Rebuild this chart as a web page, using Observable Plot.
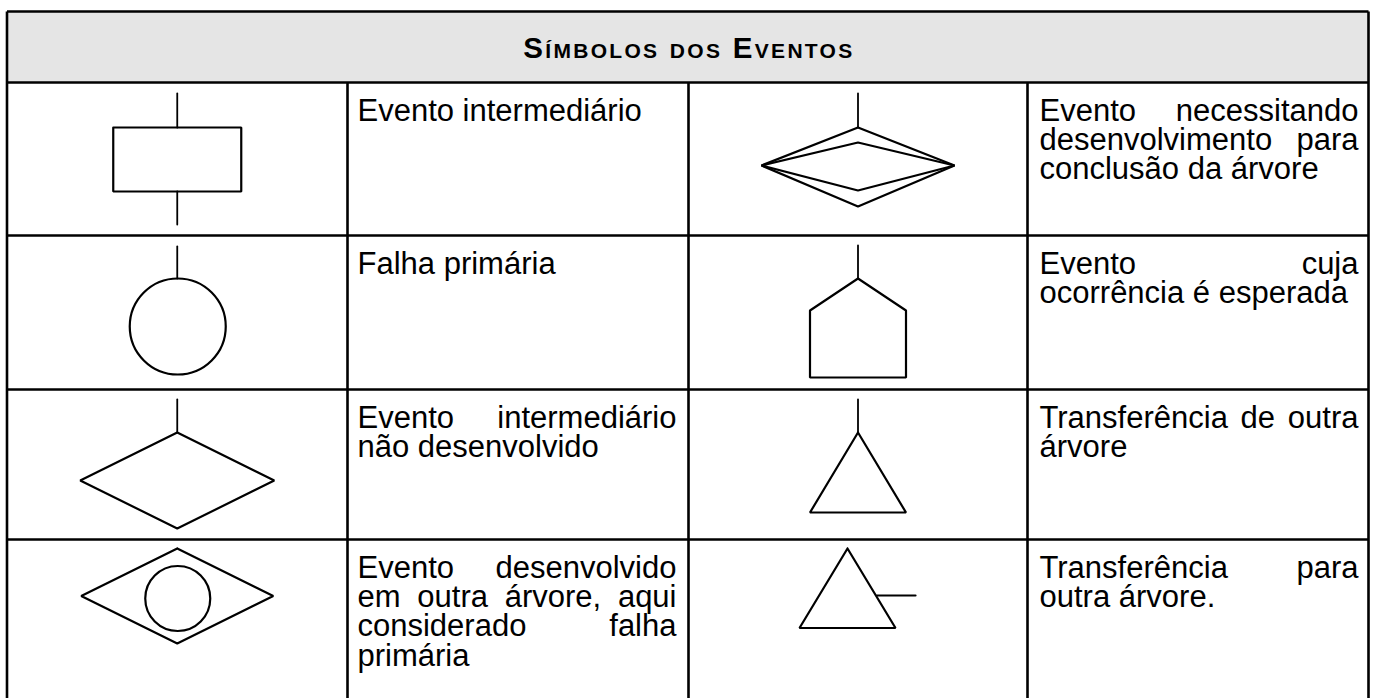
<!DOCTYPE html>
<html><head><meta charset="utf-8">
<script src="https://cdn.jsdelivr.net/npm/d3@7"></script>
<script src="https://cdn.jsdelivr.net/npm/@observablehq/plot@0.6"></script>
<style>body{margin:0;background:#fff}</style>
</head><body><div id="chart"></div>
<script>
// ---- content ----
const title = "Símbolos dos Eventos";
const symbols = ["intermediario", "necessitando", "primaria", "esperada", "naoDesenvolvido", "transfDe", "desenvOutra", "transfPara"];
const cellRow = [0, 0, 1, 1, 2, 2, 3, 3];
const cellCol = [0, 1, 0, 1, 0, 1, 0, 1];
const descriptions = [
  ["Evento intermediário"],
  ["Evento necessitando", "desenvolvimento para", "conclusão da árvore"],
  ["Falha primária"],
  ["Evento cuja", "ocorrência é esperada"],
  ["Evento intermediário", "não desenvolvido"],
  ["Transferência de outra", "árvore"],
  ["Evento desenvolvido", "em outra árvore, aqui", "considerado falha", "primária"],
  ["Transferência para", "outra árvore."]
];

// ---- layout (pixels) ----
const W = 1375, H = 698;
const colEdges = [6.5, 347, 688, 1027, 1368];
const rowEdges = [11, 82, 235, 389, 539, H];
const symbolCenterX = [(colEdges[0] + colEdges[1]) / 2, (colEdges[2] + colEdges[3]) / 2];
const textLeft = [357, 1039];
const textRight = [676, 1358];
const fontSize = 31, linePitch = 29.5, firstBaseline = 38;
const lineHeight = linePitch / fontSize;

// symbol glyph geometry, local to (column centre, row top)
const geometry = {
  intermediario: {sticks: [[[0, 11], [0, 45]], [[0, 109], [0, 142]]],
    lines: [[[-64, 45], [64, 45], [64, 109], [-64, 109], [-64, 45]]]},
  necessitando: {sticks: [[[0, 11], [0, 45]]],
    lines: [[[0, 45], [96.5, 83], [0, 124], [-96.5, 83], [0, 45]], [[0, 60], [96.5, 83], [0, 108], [-96.5, 83], [0, 60]]]},
  primaria: {sticks: [[[0, 11], [0, 43]]], lines: [], circles: [[0.5, 91, 48]]},
  esperada: {sticks: [[[0, 10], [0, 43]]],
    lines: [[[0, 43], [48, 75], [48, 142], [-48, 142], [-48, 75], [0, 43]]]},
  naoDesenvolvido: {sticks: [[[0, 10], [0, 43]]],
    lines: [[[0, 43], [97, 91], [0, 139], [-97, 91], [0, 43]]]},
  transfDe: {sticks: [[[0, 10], [0, 43]]],
    lines: [[[0, 43], [48, 123], [-48, 123], [0, 43]]]},
  desenvOutra: {sticks: [],
    lines: [[[0, 9], [96, 56.5], [0, 104], [-96, 56.5], [0, 9]]], circles: [[0.5, 59, 32.5]]},
  transfPara: {sticks: [],
    lines: [[[-10.5, 9], [37.5, 88.5], [-58.5, 88.5], [-10.5, 9]], [[19, 56], [57.5, 56]]]}
};

// ---- derived tables ----
const left = colEdges[0], right = colEdges[colEdges.length - 1];
const grid = [
  ...rowEdges.slice(0, -1).map(y => ({x1: left, x2: right, y1: y, y2: y})),
  {x1: left, x2: left, y1: rowEdges[0], y2: H},
  {x1: right, x2: right, y1: rowEdges[0], y2: H},
  ...colEdges.slice(1, -1).map(x => ({x1: x, x2: x, y1: rowEdges[1], y2: H}))
];
const pts = [], stickPts = [], circles = [];
symbols.forEach((s, k) => {
  const cx = symbolCenterX[cellCol[k]], top = rowEdges[cellRow[k] + 1];
  const g = geometry[s];
  g.lines.forEach((p, j) => p.forEach(([dx, dy]) => pts.push({id: s + j, x: cx + dx, y: top + dy})));
  g.sticks.forEach((p, j) => p.forEach(([dx, dy]) => stickPts.push({id: s + j, x: cx + dx, y: top + dy})));
  (g.circles || []).forEach(([dx, dy, r]) => circles.push({x: cx + dx, y: top + dy, r}));
});
// one text block per cell; anchor so that the first baseline sits at firstBaseline
const cells = symbols.map((s, k) => ({
  lines: descriptions[k], text: descriptions[k].join("\n"), col: cellCol[k],
  x: textLeft[cellCol[k]],
  y: rowEdges[cellRow[k] + 1] + firstBaseline - 0.71 * lineHeight * fontSize
}));
const font = "Liberation Sans, Arial, sans-serif";

const plot = Plot.plot({
  width: W, height: H,
  margin: 0,
  x: {domain: [0, W], range: [0, W], axis: null},
  y: {domain: [0, H], range: [0, H], axis: null},
  r: {type: "linear", domain: [0, 100], range: [0, 100]},
  style: {fontFamily: font, background: "#fff"},
  marks: [
    Plot.rect([0], {x1: left, x2: right, y1: rowEdges[0], y2: rowEdges[1], fill: "#e5e5e5"}),
    Plot.link(grid, {x1: "x1", y1: "y1", x2: "x2", y2: "y2", stroke: "#000", strokeWidth: 2.6}),
    Plot.line(stickPts, {x: "x", y: "y", z: "id", stroke: "#000", strokeWidth: 1.8}),
    Plot.line(pts, {x: "x", y: "y", z: "id", stroke: "#000", strokeWidth: 2.2, strokeLinejoin: "miter"}),
    Plot.dot(circles, {x: "x", y: "y", r: "r", stroke: "#000", strokeWidth: 2.2, fill: "none"}),
    Plot.text([title], {x: (left + right) / 2, y: 57.3, text: d => d, fontSize: 29.5, fontWeight: "bold",
      fontVariant: "small-caps", textAnchor: "middle", lineAnchor: "bottom", fill: "#000"}),
    Plot.text(cells, {x: "x", y: "y", text: "text", fontSize, lineHeight, textAnchor: "start",
      lineAnchor: "top", fill: "#000"})
  ]
});
document.getElementById("chart").append(plot);

// post-layout: stretch header caption, justify non-final lines (like the source document)
const textGroups = plot.querySelectorAll('g[aria-label="text"]');
textGroups[0].querySelectorAll("text").forEach(t => {
  t.setAttribute("textLength", 329);
  t.setAttribute("lengthAdjust", "spacing");
});
const SVGNS = "http://www.w3.org/2000/svg";
textGroups[1].querySelectorAll("text").forEach((t, i) => {
  const cell = cells[i];
  const target = textRight[cell.col] - textLeft[cell.col];
  const tspans = Array.from(t.querySelectorAll(":scope > tspan"));
  tspans.forEach((ts, j) => {
    if (j === tspans.length - 1) return;
    const words = ts.textContent.split(" ");
    if (words.length < 2) return;
    ts.textContent = "";
    const parts = words.map(w => {
      const p = document.createElementNS(SVGNS, "tspan");
      p.textContent = w;
      ts.appendChild(p);
      return p;
    });
    const widths = parts.map(p => p.getComputedTextLength());
    const gap = (target - d3.sum(widths)) / (words.length - 1);
    let x = 0;
    parts.forEach((p, k) => {
      if (k > 0) p.setAttribute("x", x);
      x += widths[k] + gap;
    });
  });
});
</script></body></html>
